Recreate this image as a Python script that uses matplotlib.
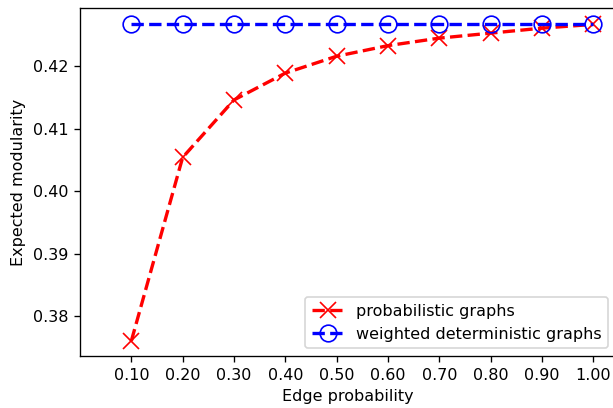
import numpy as np
import matplotlib
matplotlib.use('Agg')
import matplotlib.pyplot as plt

# datos
edge_prob = [0.1, 0.2, 0.3, 0.4, 0.5, 0.6, 0.7, 0.8, 0.9, 1.0]
prob_graphs = [0.3760, 0.4054, 0.4146, 0.4189, 0.4216, 0.4233, 0.4245, 0.4253, 0.4261, 0.4267]
weighted_graphs = [0.4267] * 10
tick_labels = ['%.2f' % v for v in edge_prob]

plt.rcParams['font.size'] = 9.6
fig = plt.figure(figsize=(613 / 120, 408 / 120), dpi=120)
ax = fig.add_axes([0.1305, 0.1275, 0.875, 0.8525])
ax.plot(edge_prob, prob_graphs, 'rx--', markersize=10, linewidth=2, label='probabilistic graphs')
ax.plot(edge_prob, weighted_graphs, 'bo--', markersize=10, linewidth=2, markerfacecolor='none',
        label='weighted deterministic graphs')
ax.set_xticks(edge_prob)
ax.set_xticklabels(tick_labels)
ax.set_xlim(0.0, 1.045)
ax.set_ylim(0.3736, 0.4293)
ax.set_yticks([0.38, 0.39, 0.40, 0.41, 0.42])
ax.set_xlabel('Edge probability')
ax.set_ylabel('Expected modularity')
ax.legend(loc='lower right')
fig.savefig('out.png', dpi=120)
